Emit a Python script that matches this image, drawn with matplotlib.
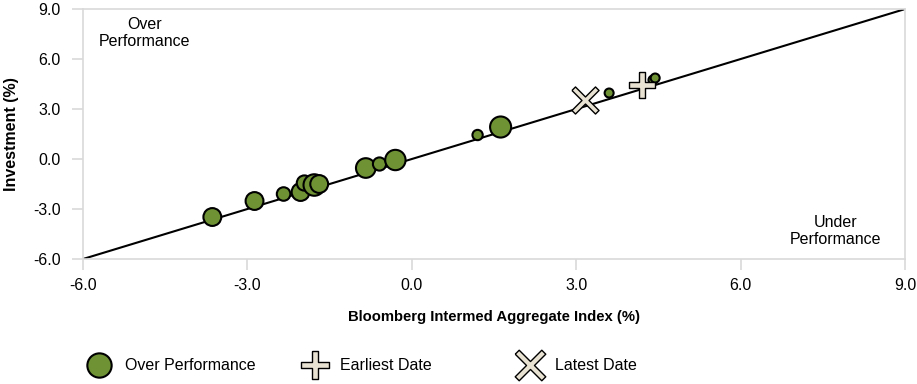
import matplotlib.pyplot as plt
import numpy as np
from matplotlib.lines import Line2D

plt.rcParams['font.family'] = ['Liberation Sans', 'DejaVu Sans']

# over performance points (x = index return, y = investment return)
bench_x = [-3.64, -2.87, -2.34, -2.03, -1.96, -1.78, -1.69, -0.84, -0.59, -0.30, 1.20, 1.62, 3.60, 4.40, 4.44]
invest_y = [-3.48, -2.52, -2.10, -1.98, -1.44, -1.56, -1.50, -0.54, -0.30, -0.06, 1.44, 1.92, 3.96, 4.74, 4.86]
sizes = [165, 165, 95, 165, 120, 240, 165, 200, 90, 215, 55, 230, 42, 42, 42]

earliest = (4.20, 4.44)
latest = (3.16, 3.54)

ticks = [-6.0, -3.0, 0.0, 3.0, 6.0, 9.0]
legend_labels = ['Over Performance', 'Earliest Date', 'Latest Date']

green = '#6f9334'
cross_fill = '#e8e2d2'

# thin plus marker outline
w = 0.2
plus_verts = [(-w, 1), (w, 1), (w, w), (1, w), (1, -w), (w, -w), (w, -1),
              (-w, -1), (-w, -w), (-1, -w), (-1, w), (-w, w), (-w, 1)]
rot = np.deg2rad(45)
v = 0.15
x_verts = [(px * np.cos(rot) - py * np.sin(rot), px * np.sin(rot) + py * np.cos(rot))
           for px, py in [(-v, 1), (v, 1), (v, v), (1, v), (1, -v), (v, -v),
                          (v, -1), (-v, -1), (-v, -v), (-1, -v), (-1, v), (-v, v), (-v, 1)]]

fig = plt.figure(figsize=(9.17, 3.84), dpi=100)
ax = fig.add_axes([0.0905, 0.3255, 0.8965, 0.651])

ax.plot([-6, 9], [-6, 9], color='black', lw=1.5, zorder=2)
ax.scatter(bench_x, invest_y, s=sizes, c=green, edgecolors='black', linewidths=1.5, zorder=3)
ax.scatter([earliest[0]], [earliest[1]], s=330, marker=plus_verts, c=cross_fill,
           edgecolors='black', linewidths=1.0, zorder=4)
ax.scatter([latest[0]], [latest[1]], s=380, marker=x_verts, c=cross_fill,
           edgecolors='black', linewidths=1.0, zorder=4)

ax.text(-4.88, 7.56, 'Over\nPerformance', ha='center', va='center', fontsize=11.5)
ax.text(7.73, -4.32, 'Under\nPerformance', ha='center', va='center', fontsize=11.5)

ax.set_xlim(-6, 9)
ax.set_ylim(-6, 9)
ax.set_xticks(ticks)
ax.set_yticks(ticks)
ax.set_xticklabels([f'{t:.1f}' for t in ticks], fontsize=11.5)
ax.set_yticklabels([f'{t:.1f}' for t in ticks], fontsize=11.5)
ax.tick_params(colors='#d9d9d9', labelcolor='black', length=8, width=1.2, pad=6)
ax.tick_params(axis='y', pad=8)
for sp in ax.spines.values():
    sp.set_color('#d9d9d9')
    sp.set_linewidth(1.2)

ax.set_xlabel('Bloomberg Intermed Aggregate Index (%)', fontsize=10.7, fontweight='bold', labelpad=12)
ax.set_ylabel('Investment (%)', fontsize=11.5, fontweight='bold', labelpad=10)

# legend drawn by hand at figure positions
leg_y = 1 - 365 / 384
markers = [
    dict(marker='o', markersize=17.5, markerfacecolor=green, markeredgecolor='black', markeredgewidth=1.5),
    dict(marker=plus_verts, markersize=20, markerfacecolor=cross_fill, markeredgecolor='black', markeredgewidth=1.0),
    dict(marker=x_verts, markersize=22, markerfacecolor=cross_fill, markeredgecolor='black', markeredgewidth=1.0),
]
marker_x = [99, 315, 530]
text_x = [125, 340, 555]
for mk, mx, tx, lab in zip(markers, marker_x, text_x, legend_labels):
    fig.add_artist(Line2D([mx / 917], [leg_y], ls='none', transform=fig.transFigure, **mk))
    fig.text(tx / 917, leg_y, lab, ha='left', va='center', fontsize=11.5)

fig.savefig('out.png', dpi=100)
